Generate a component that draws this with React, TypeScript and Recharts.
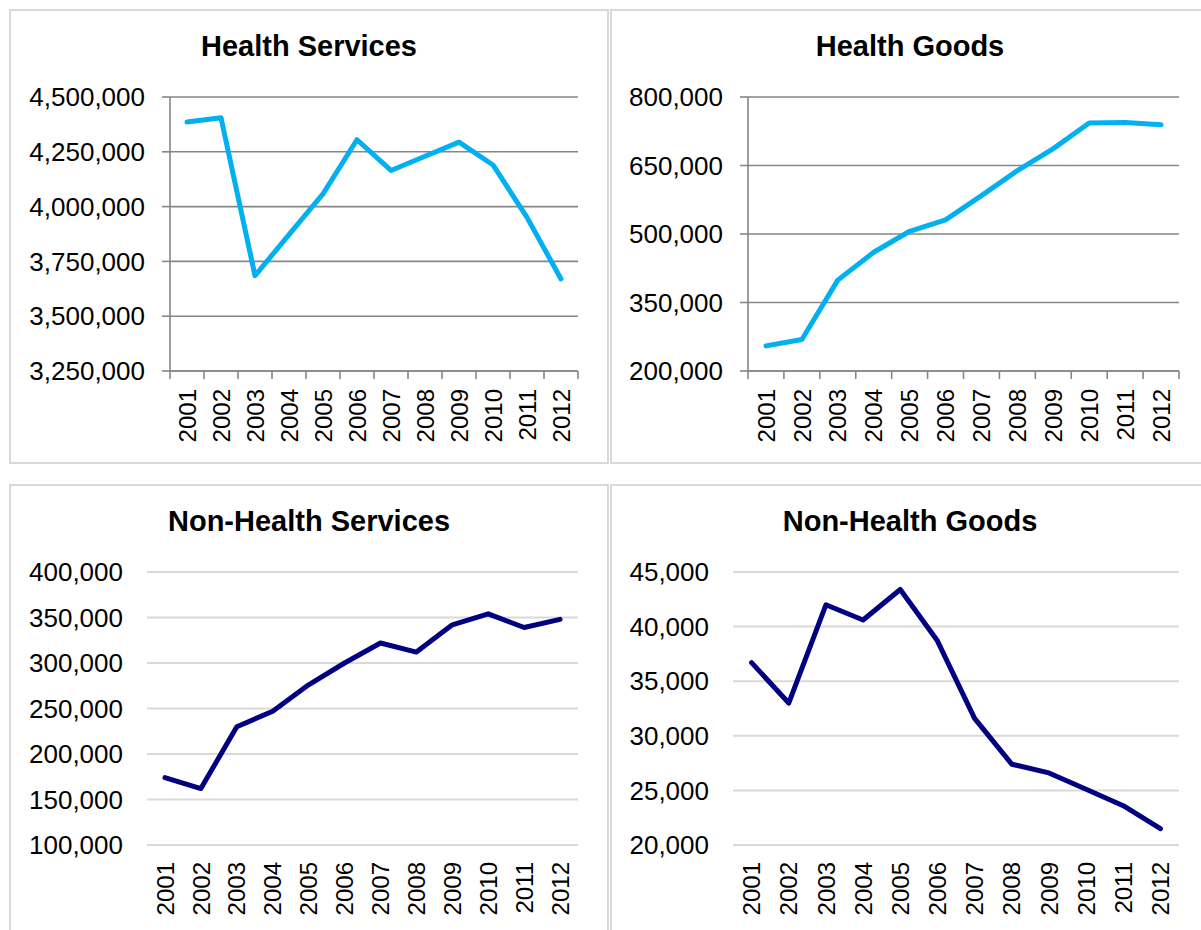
import React from "react";
import { LineChart, Line, XAxis, YAxis, CartesianGrid } from "recharts";

const years = ["2001", "2002", "2003", "2004", "2005", "2006", "2007", "2008", "2009", "2010", "2011", "2012"];

const healthServices = [4386000, 4405000, 3685000, 3872000, 4058000, 4305000, 4165000, 4230000, 4294000, 4190000, 3951000, 3670000];
const healthGoods = [255000, 269000, 399000, 460000, 506000, 531000, 584000, 639000, 687000, 743000, 744000, 739000];
const nonHealthServices = [174000, 162000, 230000, 247000, 276000, 300000, 322000, 312000, 342000, 354000, 339000, 348000];
const nonHealthGoods = [36700, 33000, 42000, 40600, 43400, 38700, 31600, 27400, 26600, 25100, 23600, 21500];

const hsTicks = [3250000, 3500000, 3750000, 4000000, 4250000, 4500000];
const hgTicks = [200000, 350000, 500000, 650000, 800000];
const nhsTicks = [100000, 150000, 200000, 250000, 300000, 350000, 400000];
const nhgTicks = [20000, 25000, 30000, 35000, 40000, 45000];

const FONT = '"Liberation Sans", Arial, sans-serif';
const LIGHT_BLUE = "#00b0f0";
const NAVY = "#000080";

// category centres and boundaries on a 0..12 number scale
const centres = years.map((_, i) => i + 0.5);
const bounds = [0, ...years.map((_, i) => i + 1)];

const fmt = (v: number) => v.toLocaleString("en-US");

function YearTick(props: any) {
    const { x, y, payload } = props;
    return (
        <text
            transform={`translate(${x},${y}) rotate(-90)`}
            textAnchor="end"
            dy="0.36em"
            fontSize={24}
            fill="#000"
            fontFamily={FONT}
        >
            {years[Math.floor(payload.value)]}
        </text>
    );
}

// tick marks only, no text
function EmptyTick() {
    return <g />;
}

interface PanelProps {
    values: number[];
    ticks: number[];
    color: string;
    boxed: boolean; // dark axes with tick marks (top row) vs light grid only (bottom row)
    left: number;
    top: number;
    width: number;
    height: number;
    yWidth: number;
    right: number;
    labelAxisHeight: number;
}

function Panel({ values, ticks, color, boxed, left, top, width, height, yWidth, right, labelAxisHeight }: PanelProps) {
    const rows = values.map((v, i) => ({ pos: centres[i], value: v }));
    const gridColor = boxed ? "#868686" : "#d9d9d9";

    return (
        <div style={{ position: "absolute", left, top, width, height }}>
            <LineChart width={width} height={height} data={rows} margin={{ top: 97, right, bottom: 0, left: 0 }}>
                <CartesianGrid vertical={false} stroke={gridColor} strokeWidth={boxed ? 1.6 : 2} yAxisId="y" xAxisId="b" />
                <XAxis
                    xAxisId="b"
                    type="number"
                    dataKey="pos"
                    domain={[0, 12]}
                    ticks={centres}
                    interval={0}
                    allowDataOverflow
                    axisLine={false}
                    tickLine={false}
                    tickSize={0}
                    tickMargin={boxed ? 10 : 17}
                    height={labelAxisHeight}
                    tick={<YearTick />}
                />
                {boxed && (
                    <XAxis
                        xAxisId="a"
                        type="number"
                        dataKey="pos"
                        domain={[0, 12]}
                        ticks={bounds}
                        interval={0}
                        allowDataOverflow
                        tick={EmptyTick}
                        tickSize={8}
                        height={8}
                        axisLine={{ stroke: gridColor, strokeWidth: 1.6 }}
                        tickLine={{ stroke: gridColor, strokeWidth: 1.6 }}
                    />
                )}
                <YAxis
                    yAxisId="y"
                    type="number"
                    domain={[ticks[0], ticks[ticks.length - 1]]}
                    ticks={ticks}
                    interval={0}
                    allowDataOverflow
                    width={yWidth}
                    tickFormatter={fmt}
                    axisLine={boxed ? { stroke: gridColor, strokeWidth: 1.6 } : false}
                    tickLine={boxed ? { stroke: gridColor, strokeWidth: 1.6 } : false}
                    tickSize={boxed ? 8 : 0}
                    tickMargin={boxed ? 17 : 24}
                    tick={{ fill: "#000", fontSize: 26, fontFamily: FONT }}
                />
                <Line
                    xAxisId="b"
                    yAxisId="y"
                    type="linear"
                    dataKey="value"
                    stroke={color}
                    strokeWidth={5}
                    strokeLinecap="round"
                    strokeLinejoin="round"
                    dot={false}
                    activeDot={false}
                    isAnimationActive={false}
                />
            </LineChart>
        </div>
    );
}

function Frame({ left, top, width, height, title }: { left: number; top: number; width: number; height: number; title: string }) {
    return (
        <>
            <div
                style={{
                    position: "absolute",
                    left,
                    top,
                    width,
                    height,
                    boxSizing: "border-box",
                    border: "2px solid #d9d9d9",
                }}
            />
            <div
                style={{
                    position: "absolute",
                    left,
                    top: top + 23,
                    width,
                    textAlign: "center",
                    fontSize: 29,
                    lineHeight: "29px",
                    fontWeight: "bold",
                    color: "#000",
                    fontFamily: FONT,
                }}
            >
                {title}
            </div>
        </>
    );
}

export default function App() {
    return (
        <div
            style={{
                position: "absolute",
                left: 0,
                top: 0,
                width: 1201,
                height: 930,
                overflow: "hidden",
                background: "#fff",
                fontFamily: FONT,
            }}
        >
            <Frame left={9} top={9} width={600} height={455} title="Health Services" />
            <Frame left={610} top={9} width={600} height={455} title="Health Goods" />
            <Frame left={9} top={484} width={600} height={470} title="Non-Health Services" />
            <Frame left={610} top={484} width={600} height={470} title="Non-Health Goods" />

            <Panel values={healthServices} ticks={hsTicks} color={LIGHT_BLUE} boxed
                left={0} top={0} width={608} height={463} yWidth={170} right={30} labelAxisHeight={84} />
            <Panel values={healthGoods} ticks={hgTicks} color={LIGHT_BLUE} boxed
                left={600} top={0} width={601} height={463} yWidth={148} right={22} labelAxisHeight={84} />
            <Panel values={nonHealthServices} ticks={nhsTicks} color={NAVY} boxed={false}
                left={0} top={475} width={608} height={455} yWidth={147} right={30} labelAxisHeight={85} />
            <Panel values={nonHealthGoods} ticks={nhgTicks} color={NAVY} boxed={false}
                left={600} top={475} width={601} height={455} yWidth={133} right={22} labelAxisHeight={85} />
        </div>
    );
}
